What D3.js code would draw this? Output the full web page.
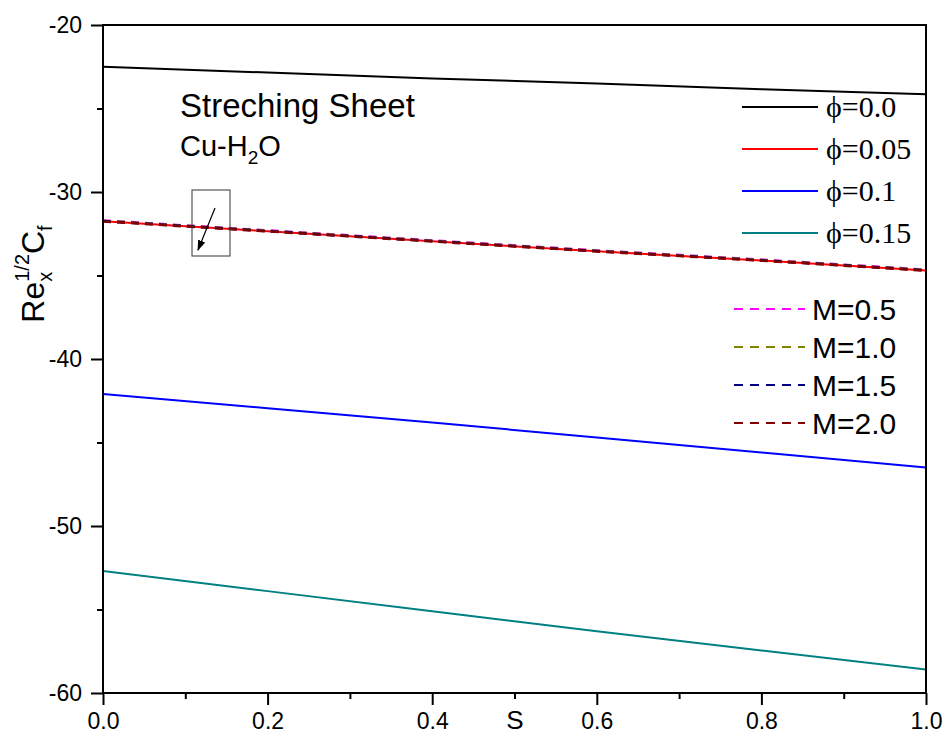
<!DOCTYPE html>
<html lang="en">
<head>
<meta charset="utf-8">
<script src="https://d3js.org/d3.v7.min.js"></script>
<style>
  body { margin: 0; background: #fff; font-family: Arial, "Liberation Sans", sans-serif; }
</style>
</head>
<body>
<div id="vis"></div>
<script>
// S values
const sVals = [0.0, 0.2, 0.4, 0.6, 0.8, 1.0];

// phi curves (solid)
const phiLabels = ["\u03d5=0.0", "\u03d5=0.05", "\u03d5=0.1", "\u03d5=0.15"];
const phiColors = ["#000000", "#ff0000", "#0000ff", "#008080"];
const phiValues = [
  [-22.5, -22.85, -23.2, -23.5, -23.85, -24.15],
  [-31.75, -32.35, -32.95, -33.55, -34.1, -34.7],
  [-42.1, -42.95, -43.8, -44.7, -45.6, -46.5],
  [-52.7, -53.9, -55.1, -56.3, -57.45, -58.6]
];

// M curves (dashed), all lie on the phi=0.05 curve
const mLabels = ["M=0.5", "M=1.0", "M=1.5", "M=2.0"];
const mColors = ["#ff00ff", "#808000", "#000080", "#800000"];
const mValues = [
  [-31.7, -32.3, -32.9, -33.5, -34.05, -34.65],
  [-31.72, -32.32, -32.92, -33.52, -34.07, -34.67],
  [-31.74, -32.34, -32.94, -33.54, -34.09, -34.69],
  [-31.76, -32.36, -32.96, -33.56, -34.11, -34.71]
];

const xTicks = [0.0, 0.2, 0.4, 0.6, 0.8, 1.0];
const yTicks = [-60, -50, -40, -30, -20];

const width = 946, height = 740;
const margin = { left: 103, right: 20, top: 25, bottom: 47 };

const svg = d3.select('#vis').append('svg')
  .attr('width', width)
  .attr('height', height);

const x = d3.scaleLinear().domain([0, 1]).range([margin.left, width - margin.right]);
const y = d3.scaleLinear().domain([-60, -20]).range([height - margin.bottom, margin.top]);

const line = d3.line()
  .x((d, i) => x(sVals[i]))
  .y(d => y(d));

// clip to plot
svg.append('clipPath').attr('id', 'clip')
  .append('rect')
  .attr('x', x(0)).attr('y', y(-20))
  .attr('width', x(1) - x(0)).attr('height', y(-60) - y(-20));

const plot = svg.append('g').attr('clip-path', 'url(#clip)');

phiValues.forEach((vals, i) => {
  plot.append('path')
    .datum(vals)
    .attr('fill', 'none')
    .attr('stroke', phiColors[i])
    .attr('stroke-width', 2)
    .attr('d', line);
});

mValues.forEach((vals, i) => {
  plot.append('path')
    .datum(vals)
    .attr('fill', 'none')
    .attr('stroke', mColors[i])
    .attr('stroke-width', 2.5)
    .attr('stroke-dasharray', '8,6')
    .attr('d', line);
});

// axes (hyphen minus like the original)
const xAxis = d3.axisBottom(x).tickValues(xTicks).tickFormat(d => d.toFixed(1)).tickSize(12).tickPadding(8);
const yAxis = d3.axisLeft(y).tickValues(yTicks).tickFormat(d => String(d)).tickSize(12).tickPadding(9);

const gx = svg.append('g').attr('transform', `translate(0,${y(-60)})`).call(xAxis);
const gy = svg.append('g').attr('transform', `translate(${x(0)},0)`).call(yAxis);

// minor ticks
const gxm = svg.append('g').attr('transform', `translate(0,${y(-60)})`)
  .call(d3.axisBottom(x).tickValues([0.1, 0.3, 0.5, 0.7, 0.9]).tickFormat('').tickSize(6));
const gym = svg.append('g').attr('transform', `translate(${x(0)},0)`)
  .call(d3.axisLeft(y).tickValues([-55, -45, -35, -25]).tickFormat('').tickSize(6));

[gx, gy, gxm, gym].forEach(g => {
  g.attr('font-size', null).attr('font-family', null);
  g.select('.domain').remove();
  g.selectAll('.tick line').attr('stroke', '#000').attr('stroke-width', 2);
  g.selectAll('.tick text')
    .style('font-size', '23px')
    .style('font-family', 'Arial, "Liberation Sans", sans-serif')
    .attr('fill', '#000');
});

// frame
svg.append('rect')
  .attr('x', x(0)).attr('y', y(-20))
  .attr('width', x(1) - x(0)).attr('height', y(-60) - y(-20))
  .attr('fill', 'none').attr('stroke', '#000').attr('stroke-width', 2);

// axis labels
svg.append('text')
  .attr('x', 515).attr('y', 729)
  .style('font-size', '26px').attr('text-anchor', 'middle')
  .text('S');

const yl = svg.append('text')
  .attr('transform', 'translate(44,274) rotate(-90)')
  .style('font-size', '32px').attr('text-anchor', 'middle');
yl.append('tspan').text('Re');
yl.append('tspan').style('font-size', '20px').attr('dy', 8).text('x');
yl.append('tspan').style('font-size', '20px').attr('dy', -23).attr('dx', -10).text('1/2');
yl.append('tspan').attr('dy', 15).text('C');
yl.append('tspan').style('font-size', '20px').attr('dy', 8).text('f');

// annotation text
svg.append('text').attr('x', 180).attr('y', 117).style('font-size', '33px').text('Streching Sheet');
const cu = svg.append('text').attr('x', 180).attr('y', 156).style('font-size', '29px');
cu.append('tspan').text('Cu-H');
cu.append('tspan').style('font-size', '19px').attr('dy', 8).text('2');
cu.append('tspan').attr('dy', -8).text('O');

// arrow box
svg.append('rect')
  .attr('x', 192).attr('y', 190).attr('width', 38).attr('height', 66)
  .attr('fill', 'none').attr('stroke', '#333').attr('stroke-width', 1);
svg.append('defs').append('marker')
  .attr('id', 'arr').attr('viewBox', '0 0 10 10').attr('refX', 9).attr('refY', 5)
  .attr('markerWidth', 9).attr('markerHeight', 9).attr('orient', 'auto')
  .append('path').attr('d', 'M0,1.5 L10,5 L0,8.5 Z').attr('fill', '#000');
svg.append('line')
  .attr('x1', 215).attr('y1', 208).attr('x2', 198).attr('y2', 250)
  .attr('stroke', '#000').attr('stroke-width', 1.2).attr('marker-end', 'url(#arr)');

// legend: phi
const lg1 = svg.append('g');
phiLabels.forEach((lab, i) => {
  const yy = 107 + i * 42;
  lg1.append('line').attr('x1', 742).attr('x2', 818).attr('y1', yy).attr('y2', yy)
    .attr('stroke', phiColors[i]).attr('stroke-width', 2);
  lg1.append('text').attr('x', 826).attr('y', yy + 10)
    .style('font-family', '"Liberation Serif", "Times New Roman", serif')
    .style('font-size', '30px').text(lab);
});

// legend: M
const lg2 = svg.append('g');
mLabels.forEach((lab, i) => {
  const yy = 309 + i * 38;
  lg2.append('line').attr('x1', 734).attr('x2', 805).attr('y1', yy).attr('y2', yy)
    .attr('stroke', mColors[i]).attr('stroke-width', 2).attr('stroke-dasharray', '9,7');
  lg2.append('text').attr('x', 812).attr('y', yy + 11)
    .style('font-size', '30px').text(lab);
});
</script>
</body>
</html>
